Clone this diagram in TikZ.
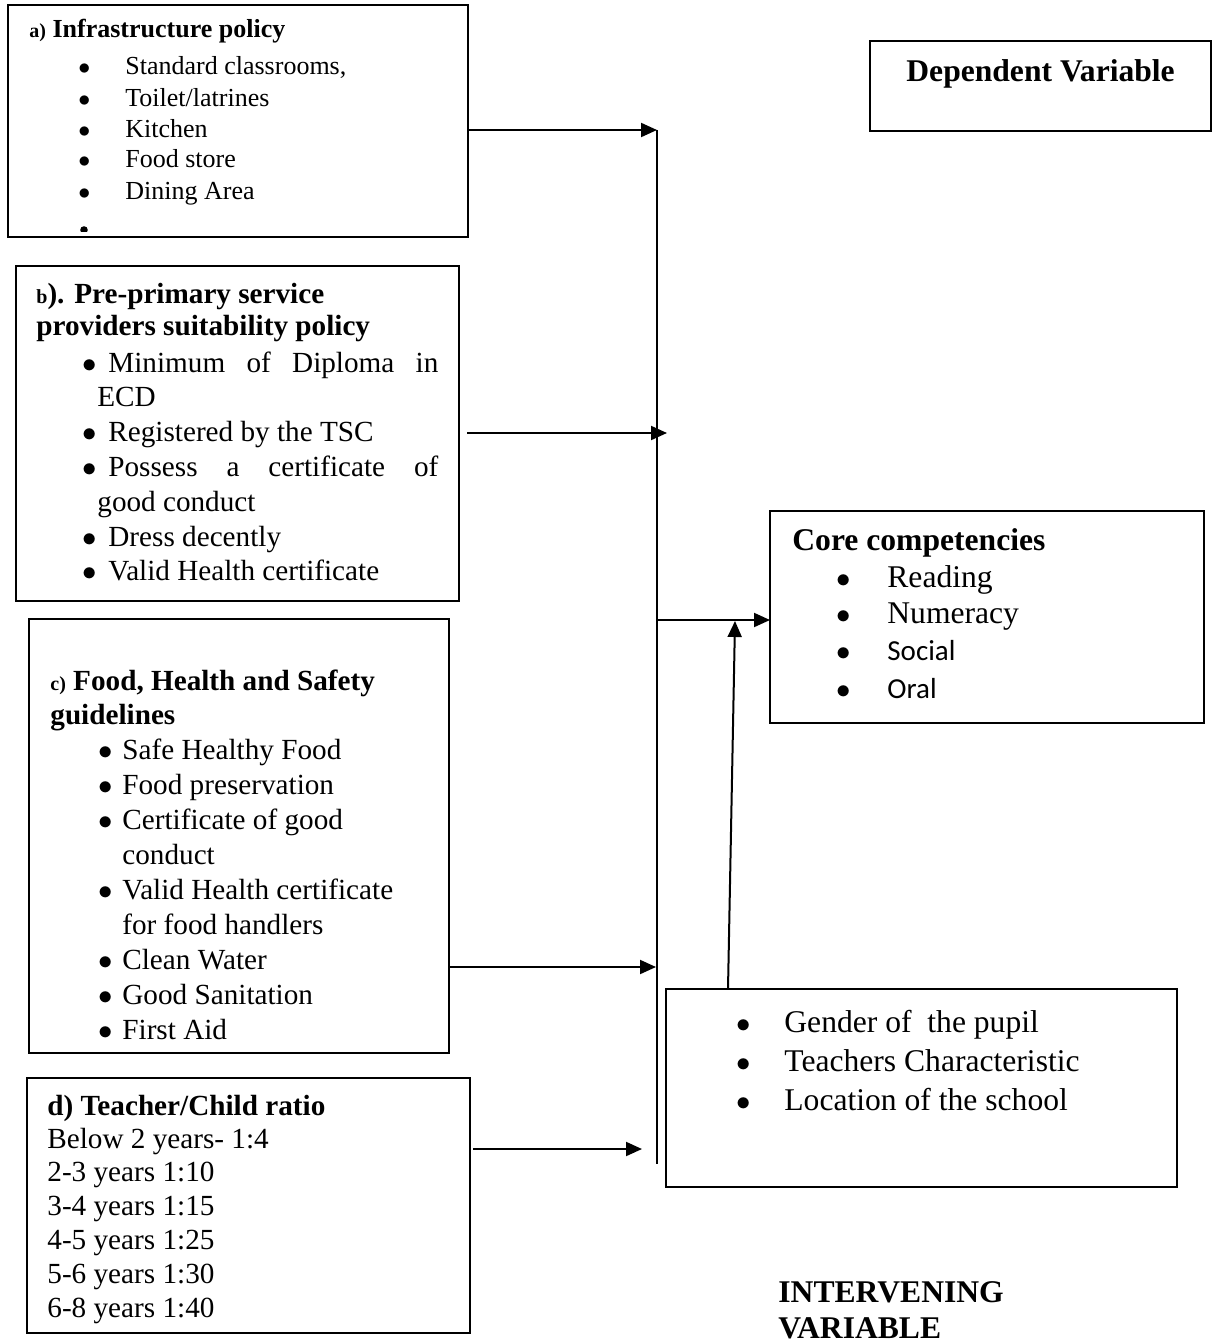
\documentclass[tikz,border=0pt]{standalone}
\usepackage{fontspec}
\setmainfont{Liberation Serif}
\newfontfamily\calibrifont{Carlito}
\usetikzlibrary{arrows.meta,positioning}
\newcommand{\szlab}{\fontsize{10}{12}\selectfont}
\newcommand{\szinfra}{\fontsize{13}{15}\selectfont}
\newcommand{\szmid}{\fontsize{14.6}{17}\selectfont}
\newcommand{\szbig}{\fontsize{15.8}{18}\selectfont}
\newcommand{\bul}[1]{\llap{\makebox[#1][l]{$\bullet$}}}

\begin{document}
\begin{tikzpicture}[x=0.5pt,y=-0.5pt,
  bx/.style={draw,line width=0.9pt,inner sep=0pt,outer sep=0pt,anchor=north west},
  ln/.style={anchor=base west,inner sep=0pt},
  conn/.style={line width=1pt,-{Triangle[length=8pt,width=7pt]}}]
\useasboundingbox (0,0) rectangle (1213,1343);

% a) infrastructure
\node[bx,minimum width=230pt,minimum height=116pt] (infra) at (8,5) {};
\node[ln,font=\szinfra\bfseries] (infratitle) at (29,38) {{\szlab a)} Infrastructure policy};
\foreach \t [count=\i from 0] in {{Standard classrooms,},Toilet/latrines,Kitchen,Food store,Dining Area}
  \node[ln,font=\szinfra] (infra\i) at (125,{75+31*\i}) {\bul{23.5pt}\t};
\begin{scope}
  \clip (10,200) rectangle (466,231);
  \fill (84,230) circle (1.9pt);
\end{scope}

% b) suitability
\node[bx,minimum width=221.5pt,minimum height=167.5pt] (suit) at (16,266) {};
\node[ln,font=\szmid\bfseries] (suittitle) at (36,303) {{\szlab b}). Pre-primary service};
\node[ln,font=\szmid\bfseries] (suittitleb) at (36,335) {providers suitability policy};
\foreach \t [count=\i from 0] in {{\bul{13pt}\makebox[165pt][s]{Minimum of Diploma in}},
    {\hspace*{-5.5pt}ECD},{\bul{13pt}Registered by the TSC},
    {\bul{13pt}\makebox[165pt][s]{Possess a certificate of}},
    {\hspace*{-5.5pt}good conduct},{\bul{13pt}Dress decently},{\bul{13pt}Valid Health certificate}}
  \node[ln,font=\szmid] (suit\i) at (108,{372+34.8*\i}) {\t};

% c) food, health and safety
\node[bx,minimum width=210pt,minimum height=217pt] (food) at (29,619) {};
\node[ln,font=\szmid\bfseries] (foodtitle) at (50,690) {{\szlab c)} Food, Health and Safety};
\node[ln,font=\szmid\bfseries] (foodtitleb) at (50,724) {guidelines};
\foreach \t [count=\i from 0] in {{\bul{12pt}Safe Healthy Food},{\bul{12pt}Food preservation},
    {\bul{12pt}Certificate of good},conduct,{\bul{12pt}Valid Health certificate},
    for food handlers,{\bul{12pt}Clean Water},{\bul{12pt}Good Sanitation},{\bul{12pt}First Aid}}
  \node[ln,font=\szmid] (food\i) at (122,{759+35*\i}) {\t};

% d) teacher/child ratio
\node[bx,minimum width=221.5pt,minimum height=127.5pt] (ratio) at (27,1078) {};
\node[ln,font=\szmid\bfseries] (ratiotitle) at (47,1115) {d) Teacher/Child ratio};
\foreach \t [count=\i from 0] in {Below 2 years- 1:4,2-3 years 1:10,3-4 years 1:15,
    4-5 years 1:25,5-6 years 1:30,6-8 years 1:40}
  \node[ln,font=\szmid] (ratio\i) at (47,{1148+33.8*\i}) {\t};

% dependent variable
\node[bx,minimum width=170.5pt,minimum height=45pt] (dep) at (870,41) {};
\node[ln,font=\szbig\bfseries] (deptitle) at (906,82) {Dependent Variable};

% core competencies
\node[bx,minimum width=217pt,minimum height=106pt] (core) at (770,511) {};
\node[ln,font=\szbig\bfseries] (coretitle) at (792,550) {Core competencies};
\node[ln,font=\szbig] (core0) at (887,587) {\bul{25.5pt}Reading};
\node[ln,font=\szbig] (core1) at (887,623) {\bul{25.5pt}Numeracy};
\node[ln,font=\szbig] (core2) at (887,660) {\bul{25.5pt}{\calibrifont\fontsize{14.5}{17}\selectfont Social}};
\node[ln,font=\szbig] (core3) at (887,698) {\bul{25.5pt}{\calibrifont\fontsize{14.5}{17}\selectfont Oral}};

% intervening variable
\node[bx,minimum width=255.5pt,minimum height=99pt] (interv) at (666,989) {};
\foreach \t [count=\i from 0] in {Gender of\ \ the pupil,Teachers Characteristic,Location of the school}
  \node[ln,font=\szbig] (interv\i) at (784,{1032+39*\i}) {\bul{24pt}\t};
\node[ln,font=\szbig\bfseries] (intervtitle) at (778,1302) {INTERVENING};
\node[ln,font=\szbig\bfseries] (intervtitleb) at (778,1338) {VARIABLE};

% connectors
\coordinate (bustop) at (657,130);
\coordinate (busbot) at (657,1164);
\coordinate (bB) at (667,433);
\coordinate (cB) at (656,967);
\coordinate (dB) at (642,1149);
\coordinate (coreIn) at (657,620);
\coordinate (upTip) at (735,621);
\draw[line width=0.8pt] (bustop) -- (busbot);
\draw[conn] (infra.east |- bustop) -- (bustop);
\draw[conn] ([xshift=4pt]suit.east |- bB) -- (bB);
\draw[conn] (food.east |- cB) -- (cB);
\draw[conn] ([xshift=1.5pt]ratio.east |- dB) -- (dB);
\draw[conn] (coreIn) -- (core.west |- coreIn);
\draw[conn] ([xshift=31pt]interv.north west) -- (upTip);
\end{tikzpicture}
\end{document}
